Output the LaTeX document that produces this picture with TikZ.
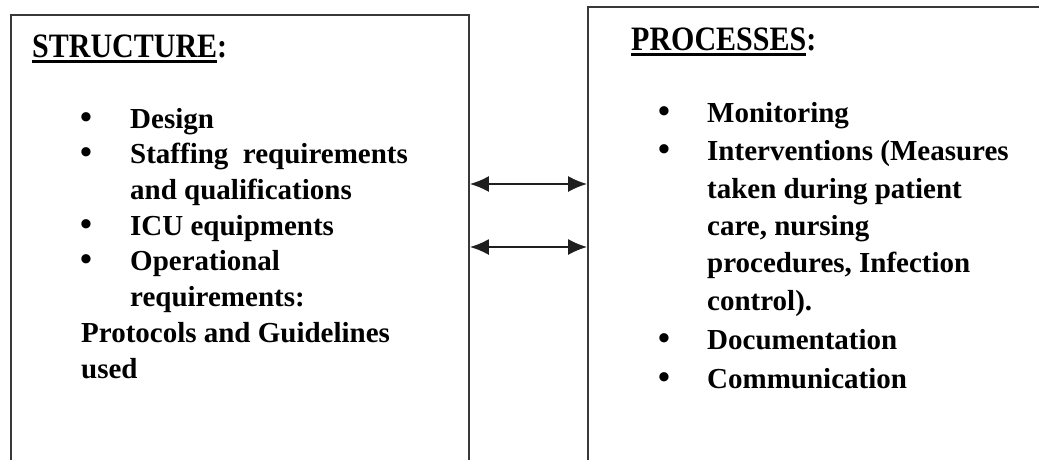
\documentclass[tikz,border=0pt]{standalone}
\usepackage{fontspec}
\setmainfont{Liberation Serif}
\usetikzlibrary{arrows.meta}
\newcommand{\headul}[1]{\leavevmode\setbox0\hbox{\scalebox{1}[1.14]{#1}}\rlap{\raisebox{-5.5pt}{\rule{\wd0}{2.4pt}}}\box0}
\begin{document}
\begin{tikzpicture}[x=1pt,y=-1pt,
  boxframe/.style={draw=black!78,line width=1.8pt,rectangle,inner sep=0pt},
  headtxt/.style={anchor=base west,inner sep=0pt,font=\fontsize{30}{36}\selectfont\bfseries},
  itemtxt/.style={anchor=base west,inner sep=0pt,font=\fontsize{29}{35}\selectfont\bfseries},
  bul/.style={anchor=base,inner sep=0pt,font=\fontsize{34}{35}\selectfont\bfseries},
  link/.style={{Latex[length=19pt,width=16pt]}-{Latex[length=19pt,width=16pt]},line width=1.7pt,draw=black!88}]
\useasboundingbox (0,0) rectangle (1039,459);
\clip (0,0) rectangle (1039,459);
% boxes (bottom and right edge run off the page)
\node[boxframe,minimum width=458pt,minimum height=465pt] (L) at (240,247.5) {};
\node[boxframe,minimum width=462pt,minimum height=473pt] (R) at (819,243.5) {};
% left heading
\node[headtxt] (lh) at (32,57) {\headul{STRUCTURE}\scalebox{1}[1.14]{:}};
% left items
\node[bul] (lb1) at (86,128) {•};
\node[itemtxt] (l1) at (130,128) {Design};
\node[bul] (lb2) at (86,163.7) {•};
\node[itemtxt] (l2) at (130,163.7) {Staffing\ \ requirements};
\node[itemtxt] (l3) at (130,199.4) {and qualifications};
\node[bul] (lb3) at (86,235.1) {•};
\node[itemtxt] (l4) at (130,235.1) {ICU equipments};
\node[bul] (lb4) at (86,270.8) {•};
\node[itemtxt] (l5) at (130,270.8) {Operational};
\node[itemtxt] (l6) at (130,306.5) {requirements:};
\node[itemtxt] (l7) at (81,342.2) {Protocols and Guidelines};
\node[itemtxt] (l8) at (81,378) {used};
% right heading
\node[headtxt] (rh) at (631,50) {\headul{PROCESSES}\scalebox{1}[1.14]{:}};
% right items
\node[bul] (rb1) at (664,122) {•};
\node[itemtxt] (r1) at (707,122) {Monitoring};
\node[bul] (rb2) at (664,160) {•};
\node[itemtxt] (r2) at (707,160) {Interventions (Measures};
\node[itemtxt] (r3) at (707,198) {taken during patient};
\node[itemtxt] (r4) at (707,235) {care, nursing};
\node[itemtxt] (r5) at (707,272) {procedures, Infection};
\node[itemtxt] (r6) at (707,310) {control).};
\node[bul] (rb3) at (664,349) {•};
\node[itemtxt] (r7) at (707,349) {Documentation};
\node[bul] (rb4) at (664,388) {•};
\node[itemtxt] (r8) at (707,388) {Communication};
% connectors
\coordinate (a1) at (0,184);
\coordinate (a2) at (0,247);
\draw[link] (L.east |- a1) -- (R.west |- a1);
\draw[link] (L.east |- a2) -- (R.west |- a2);
\end{tikzpicture}
\end{document}
